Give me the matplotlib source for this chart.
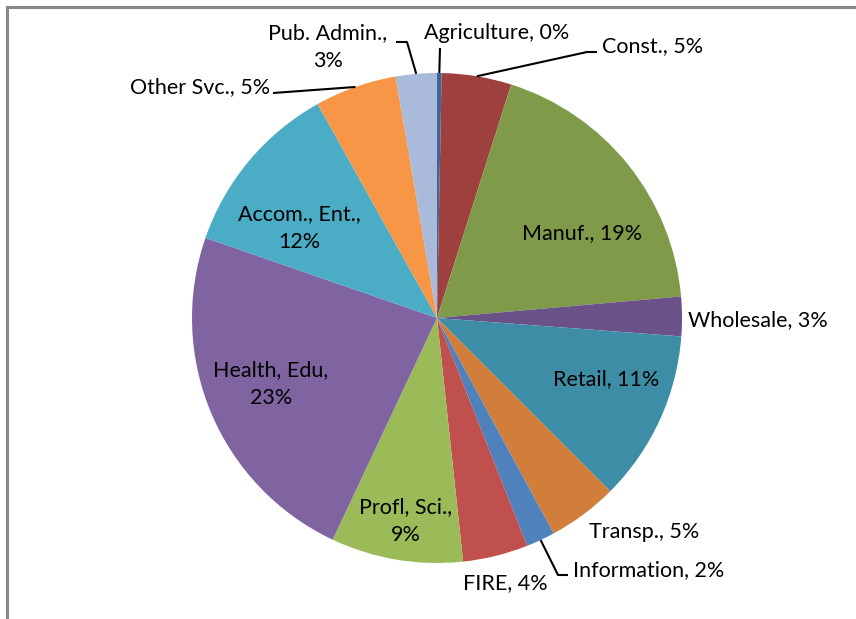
import matplotlib
matplotlib.use("Agg")
import matplotlib.pyplot as plt
import numpy as np

# ---- data ----
sectors = ["Agriculture", "Const.", "Manuf.", "Wholesale", "Retail", "Transp.",
           "Information", "FIRE", "Profl, Sci.", "Health, Edu", "Accom., Ent.",
           "Other Svc.", "Pub. Admin."]
shares = [0.3, 4.6, 18.7, 2.6, 11.3, 4.6, 1.9, 4.3, 8.7, 23.3, 11.6, 5.4, 2.7]
colors = ["#3C659A", "#9E413E", "#7F9A48", "#6A5188", "#3D8DA7", "#D17E3B",
          "#4F81BD", "#C0504D", "#9BBB59", "#8064A2", "#4BACC6", "#F79646",
          "#A9BADA"]

# label text layout: (format, x_px, y_px, ha) in image pixel coords (y from top)
label_layout = [
    ("{n}, {p}", 497, 33, "center"),
    ("{n}, {p}", 653, 46, "center"),
    ("{n}, {p}", 582, 233, "center"),
    ("{n}, {p}", 688, 320, "left"),
    ("{n}, {p}", 606, 379, "center"),
    ("{n}, {p}", 644, 532, "center"),
    ("{n}, {p}", 573, 570, "left"),
    ("{n}, {p}", 505, 583, "center"),
    ("{n},\n{p}", 406, 521, "center"),
    ("{n},\n{p}", 271, 384, "center"),
    ("{n},\n{p}", 299, 228, "center"),
    ("{n}, {p}", 270, 87, "right"),
    ("{n},\n{p}", 328, 47, "center"),
]
# leader line elbows (pixel coords) following the arc point
leaders = {
    0: [(440, 48)],
    1: [(587, 52), (597, 52)],
    6: [(558, 575), (568, 575)],
    11: [(273, 93)],
    12: [(407, 42), (396, 42)],
}

W, H = 856, 619
fig = plt.figure(figsize=(W / 100, H / 100), dpi=100)
ax = fig.add_axes([0, 0, 1, 1])

cx, cy, R = 437, H - 318, 245
wedges, _ = ax.pie(shares, colors=colors, startangle=90, counterclock=False,
                   center=(cx, cy), radius=R, wedgeprops=dict(linewidth=0))
ax.set_xlim(0, W)
ax.set_ylim(0, H)
ax.set_aspect("equal")
ax.axis("off")

font = dict(family=["Lato", "DejaVu Sans"], fontsize=15.5, color="#000000")
for i, (name, val, (fmt, x, y, ha)) in enumerate(zip(sectors, shares, label_layout)):
    txt = fmt.format(n=name, p=f"{val:.0f}%")
    ax.text(x, H - y, txt, ha=ha, va="center", linespacing=1.45, **font)
    if i in leaders:
        w = wedges[i]
        mid = np.deg2rad((w.theta1 + w.theta2) / 2)
        px, py = cx + R * np.cos(mid), cy + R * np.sin(mid)
        pts = [(px, py)] + [(a, H - b) for a, b in leaders[i]]
        xs, ys = zip(*pts)
        ax.plot(xs, ys, color="#000000", lw=1.5, solid_capstyle="butt")

# chart-area border (top and left visible)
ax.plot([7.5, 7.5], [0, H - 6.5], color="#888888", lw=2.2)
ax.plot([7.5, W], [H - 6.5, H - 6.5], color="#888888", lw=2.2)

fig.savefig("out.png", dpi=100, facecolor="white")
